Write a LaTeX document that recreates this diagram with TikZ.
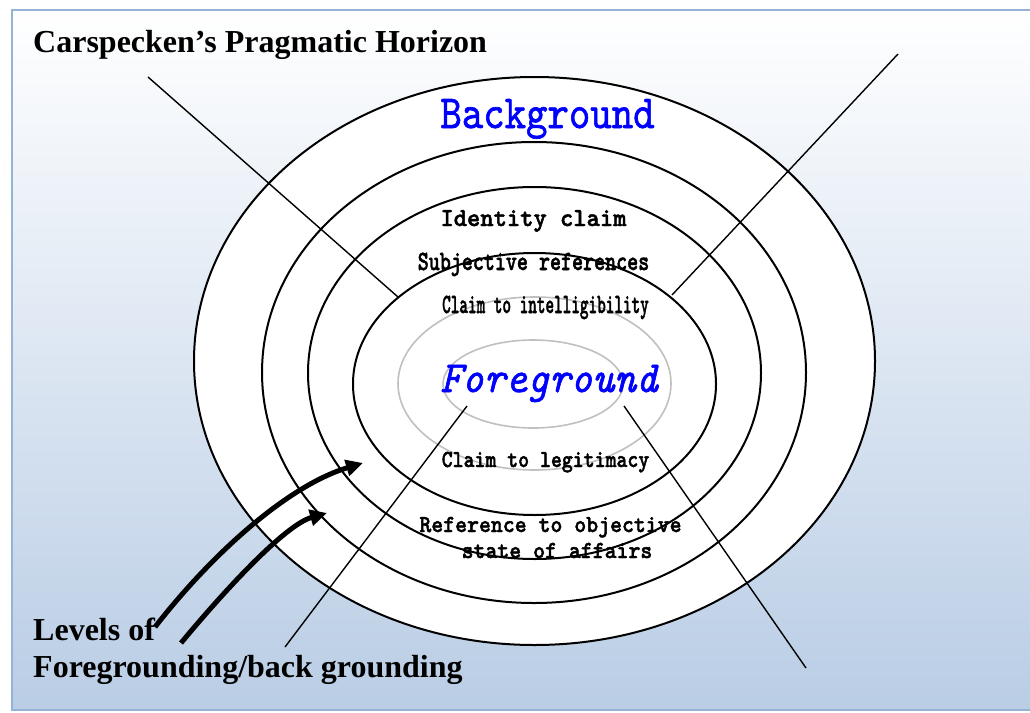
\documentclass[tikz,border=0pt]{standalone}
\usepackage{fontspec}
\setmainfont{Liberation Serif}
\newfontfamily\monobold{lmmonolt10-bold.otf}[FakeBold=1.8]
\newfontfamily\monoblue{lmmono10-regular.otf}[FakeBold=1.4]
\newfontfamily\monoblueit{lmmono10-italic.otf}[FakeBold=1.4]
\usetikzlibrary{arrows.meta}
\definecolor{framecol}{RGB}{149,179,215}
\definecolor{bgbottom}{RGB}{185,205,229}
\definecolor{greyring}{RGB}{192,192,192}
\definecolor{txtblue}{RGB}{0,0,255}
\newcommand{\mlab}[4]{\scalebox{1}[#2]{\fontsize{#1}{#1}#3#4}}
\begin{document}
\begin{tikzpicture}[x=1pt,y=-1pt,
  ring/.style={draw=black,line width=2pt,fill=white},
  greyr/.style={draw=greyring,line width=1.6pt,fill=white},
  ray/.style={draw=black,line width=1.4pt},
  bigarrow/.style={line width=5pt,-{Triangle[length=17pt,width=16pt]}},
  serifbold/.style={font=\fontsize{32}{36}\selectfont\bfseries,anchor=base west,inner sep=0pt},
  monolabel/.style={anchor=base,inner sep=0pt}]
\useasboundingbox (0,0) rectangle (1030,712);
\fill[white] (0,0) rectangle (1030,712);
% frame with gradient
\shade[top color=white,bottom color=bgbottom,draw=framecol,line width=2pt] (12,10) rectangle (1045,710);
% rings
\draw[ring] (534.5,361) ellipse [x radius=340.5,y radius=284];
\draw[ring] (534,372.5) ellipse [x radius=272,y radius=230.5];
\draw[ring] (534.5,373) ellipse [x radius=226.5,y radius=186];
\draw[ring] (534.5,384) ellipse [x radius=181.5,y radius=131];
\draw[greyr] (534.5,383.5) ellipse [x radius=136.5,y radius=86.5];
\draw[greyr] (533,384) ellipse [x radius=90,y radius=44];
% ray end points
\coordinate (a1) at (148,77);
\coordinate (a2) at (398,297);
\coordinate (b1) at (898,54);
\coordinate (b2) at (672,295);
\coordinate (c1) at (467,406);
\coordinate (c2) at (285,647);
\coordinate (d1) at (624,406);
\coordinate (d2) at (806,668);
\draw[ray] (a1) -- (a2);
\draw[ray] (b1) -- (b2);
\draw[ray] (c1) -- (c2);
\draw[ray] (d1) -- (d2);
% labels
\node[serifbold] (title) at (33,52) {Carspecken’s Pragmatic Horizon};
\node[monolabel] (bg) at (547.5,128) {\mlab{40.8}{1.16}{\monoblue}{\color{txtblue}Background}};
\node[monolabel] (fg) at (549,392) {\mlab{41.4}{1.07}{\monoblueit}{\color{txtblue}Foreground}};
\node[monolabel] (idc) at (533.5,226) {\mlab{25.3}{1.03}{\monobold}{Identity claim}};
\node[monolabel] (subj) at (533.5,270) {\mlab{21}{1.33}{\monobold}{Subjective references}};
\node[monolabel] (intel) at (545.5,313) {\mlab{16.4}{1.7}{\monobold}{Claim to intelligibility}};
\node[monolabel] (legit) at (545.5,467) {\mlab{20.8}{1.18}{\monobold}{Claim to legitimacy}};
\node[monolabel] (ref1) at (550.5,532) {\mlab{22.7}{1.08}{\monobold}{Reference to objective}};
\node[monolabel] (ref2) at (557,558) {\mlab{22.7}{1.08}{\monobold}{state of affairs}};
\node[serifbold] (lev1) at (33,640) {Levels of};
\node[serifbold] (lev2) at (33,677) {Foregrounding/back grounding};
% arrows
\coordinate (p1) at (155,627);
\coordinate (q1) at (363,463);
\coordinate (p2) at (181,643);
\coordinate (q2) at (327,513);
\draw[bigarrow] (p1) .. controls (215,550) and (290,485) .. (q1);
\draw[bigarrow] (p2) .. controls (225,590) and (285,525) .. (q2);
\end{tikzpicture}
\end{document}
